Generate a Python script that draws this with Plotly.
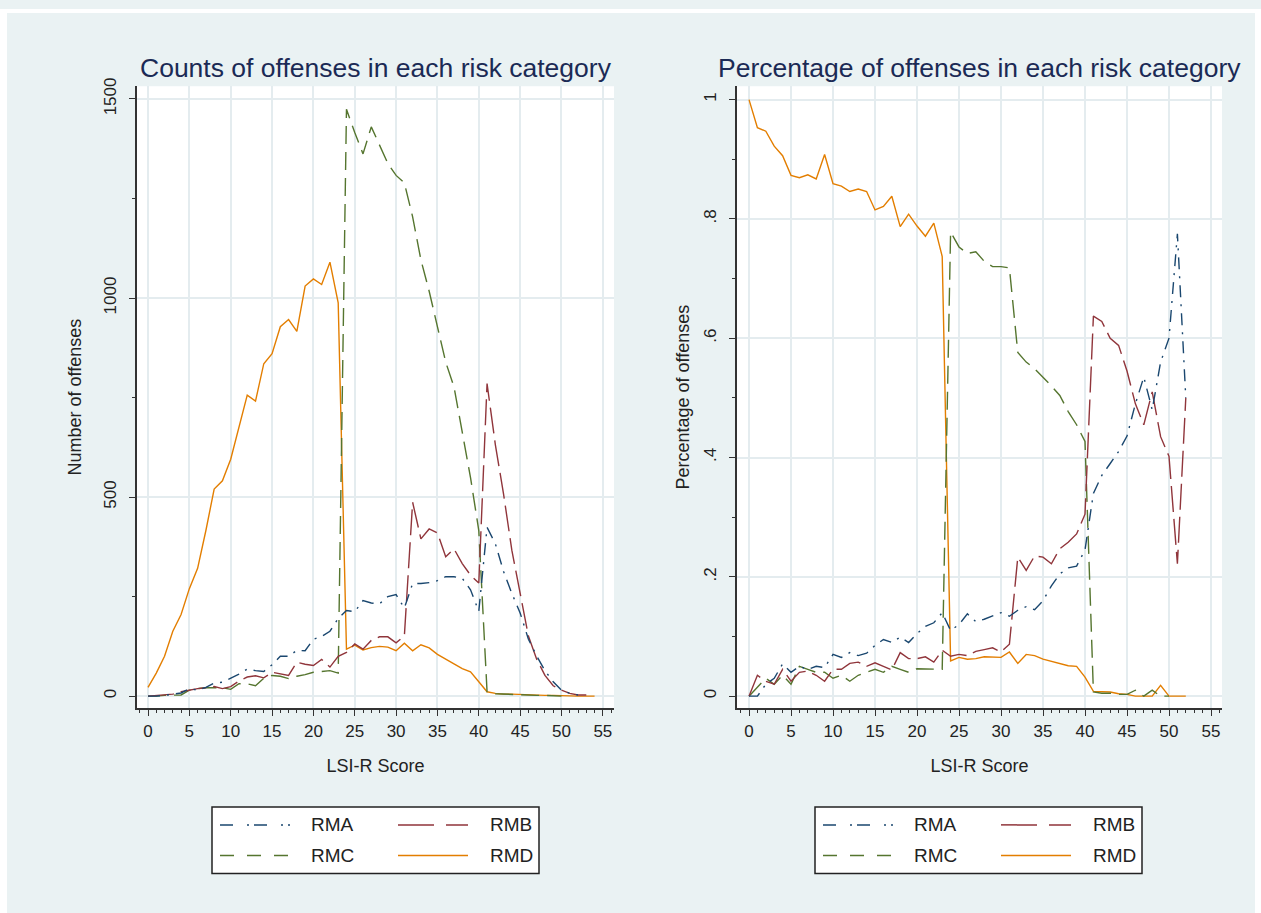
import plotly.graph_objects as go

W, H = 1261, 913

# ---------------- data ----------------
score_left_rma = list(range(0, 53))
count_rma = [0, 0, 2, 5, 8, 19, 15, 22, 33, 35, 44, 55, 68, 64, 62, 79, 100, 100, 115, 114,
             143, 150, 163, 195, 215, 212, 240, 234, 232, 250, 255, 221, 283, 283, 285, 290,
             300, 300, 296, 267, 213, 424, 383, 313, 258, 209, 143, 101, 64, 36, 15, 7, 3]
score_left_rmb = list(range(0, 54))
count_rmb = [0, 2, 3, 5, 11, 15, 19, 21, 24, 19, 24, 38, 48, 51, 46, 60, 56, 52, 85, 80,
             77, 92, 73, 100, 110, 131, 118, 140, 149, 149, 134, 151, 487, 395, 420, 410,
             350, 370, 333, 304, 284, 785, 632, 507, 366, 259, 151, 93, 52, 26, 15, 7, 3, 3]
score_left_rmc = list(range(0, 51))
count_rmc = [0, 0, 2, 3, 3, 15, 19, 21, 21, 21, 17, 31, 31, 26, 45, 52, 50, 44, 50, 54,
             60, 62, 64, 58, 1474, 1416, 1362, 1430, 1382, 1338, 1308, 1289, 1204, 1096,
             1017, 930, 839, 777, 665, 549, 416, 11, 6, 5, 4, 3, 3, 2, 2, 1, 0]
score_left_rmd = list(range(0, 55))
count_rmd = [22, 58, 100, 163, 205, 270, 321, 416, 520, 541, 595, 673, 756, 741, 835, 860,
             928, 946, 916, 1030, 1048, 1034, 1090, 988, 118, 128, 116, 122, 125, 123, 114,
             133, 114, 129, 121, 105, 94, 81, 69, 61, 36, 11, 7, 5, 5, 4, 3, 2, 2, 2, 1, 1,
             0, 0, 0]

score_right = list(range(0, 53))
pct_rma = [0, 0, 0.02, 0.03, 0.054, 0.04, 0.05, 0.045, 0.05, 0.048, 0.07, 0.065, 0.073,
           0.068, 0.072, 0.085, 0.095, 0.09, 0.099, 0.09, 0.105, 0.117, 0.123, 0.14, 0.11,
           0.12, 0.138, 0.125, 0.129, 0.135, 0.14, 0.134, 0.144, 0.15, 0.145, 0.16, 0.185,
           0.205, 0.215, 0.218, 0.245, 0.34, 0.37, 0.39, 0.41, 0.436, 0.49, 0.535, 0.48,
           0.56, 0.60, 0.775, 0.50]
pct_rmb = [0, 0.035, 0.025, 0.02, 0.045, 0.025, 0.04, 0.042, 0.035, 0.025, 0.045, 0.045,
           0.055, 0.057, 0.05, 0.056, 0.05, 0.044, 0.073, 0.063, 0.063, 0.066, 0.057, 0.077,
           0.067, 0.07, 0.068, 0.075, 0.078, 0.081, 0.074, 0.087, 0.233, 0.211, 0.235, 0.233,
           0.222, 0.247, 0.258, 0.272, 0.305, 0.637, 0.628, 0.60, 0.588, 0.545, 0.49, 0.455,
           0.51, 0.435, 0.402, 0.222, 0.50]
score_right_rmc = list(range(0, 51))
pct_rmc = [0, 0.015, 0.03, 0.02, 0.035, 0.02, 0.05, 0.045, 0.04, 0.04, 0.03, 0.035, 0.025,
           0.035, 0.04, 0.045, 0.04, 0.05, 0.045, 0.04, 0.046, 0.046, 0.045, 0.045, 0.778,
           0.753, 0.742, 0.745, 0.729, 0.72, 0.72, 0.718, 0.576, 0.56, 0.549, 0.535, 0.52,
           0.504, 0.477, 0.455, 0.427, 0.007, 0.005, 0.005, 0.003, 0.003, 0.01, 0.0, 0.01,
           0.0, 0.0]
pct_rmd = [1.0, 0.953, 0.947, 0.922, 0.906, 0.873, 0.869, 0.874, 0.867, 0.908, 0.859, 0.855,
           0.846, 0.85, 0.846, 0.815, 0.821, 0.838, 0.787, 0.808, 0.788, 0.771, 0.793, 0.737,
           0.059, 0.065, 0.062, 0.063, 0.066, 0.065, 0.065, 0.074, 0.055, 0.07, 0.068, 0.062,
           0.058, 0.054, 0.051, 0.05, 0.032, 0.008, 0.007, 0.007, 0.004, 0.003, 0.0, 0.0, 0.0,
           0.018, 0.0, 0.0, 0.0]

series_names = ["RMA", "RMB", "RMC", "RMD"]
count_ticks = [0, 500, 1000, 1500]
pct_ticks = [0, 0.2, 0.4, 0.6, 0.8, 1.0]
pct_ticktext = ["0", ".2", ".4", ".6", ".8", "1"]
score_ticks = list(range(0, 56, 5))

# ---------------- styles ----------------
colors = {"RMA": "#1a476f", "RMB": "#90353b", "RMC": "#55752f", "RMD": "#e37e00"}
dashes = {"RMA": "12px,7px,2px,7px", "RMB": "26px,7px", "RMC": "18px,8px", "RMD": "solid"}
legend_dashes = {"RMA": "13px,14px,2px,5px", "RMB": "36px,12px", "RMC": "14px,13px", "RMD": "solid"}
FONT = "Liberation Sans, Arial, sans-serif"
TXT = "#222222"
TITLE_C = "#1b2a55"
GRID = "#e4ecef"
BG = "#eaf2f3"


def px(x):
    return x / W


def py(y):
    return 1 - y / H


fig = go.Figure()

left_data = {
    "RMA": (score_left_rma, count_rma),
    "RMB": (score_left_rmb, count_rmb),
    "RMC": (score_left_rmc, count_rmc),
    "RMD": (score_left_rmd, count_rmd),
}
right_data = {
    "RMA": (score_right, pct_rma),
    "RMB": (score_right, pct_rmb),
    "RMC": (score_right_rmc, pct_rmc),
    "RMD": (score_right, pct_rmd),
}

for name in ["RMD", "RMC", "RMB", "RMA"]:
    xs, ys = left_data[name]
    fig.add_trace(go.Scatter(x=xs, y=ys, mode="lines", name=name, showlegend=False,
                             line=dict(color=colors[name], width=1.4, dash=dashes[name]),
                             xaxis="x", yaxis="y"))
for name in ["RMD", "RMC", "RMB", "RMA"]:
    xs, ys = right_data[name]
    fig.add_trace(go.Scatter(x=xs, y=ys, mode="lines", name=name, showlegend=False,
                             line=dict(color=colors[name], width=1.4, dash=dashes[name]),
                             xaxis="x2", yaxis="y2"))

axis_common = dict(
    showline=True, linecolor="#333333", linewidth=1.5, mirror=False,
    showgrid=True, gridcolor=GRID, gridwidth=1.5, zeroline=False,
    ticks="outside", ticklen=6, tickwidth=1.3, tickcolor="#333333",
    tickfont=dict(family=FONT, size=17, color=TXT),
)

xdom_l = [px(137), px(614)]
xdom_r = [px(737), px(1222)]
ydom = [py(706), py(78)]

fig.update_layout(
    width=W, height=H,
    margin=dict(l=0, r=0, t=0, b=0),
    paper_bgcolor=BG, plot_bgcolor="white",
    font=dict(family=FONT, color=TXT),
    xaxis=dict(domain=xdom_l, anchor="y", range=[-1.33, 56.35], tickvals=score_ticks,
               minor=dict(dtick=1, tick0=0, ticklen=3, tickwidth=1, tickcolor="#333333",
                          ticks="outside", showgrid=False),
               title=dict(text="LSI-R Score", font=dict(family=FONT, size=18, color=TXT),
                          standoff=19),
               ticklabelstandoff=1, **axis_common),
    yaxis=dict(domain=ydom, anchor="x", range=[-29.9, 1532], tickvals=count_ticks,
               tickangle=-90,
               minor=dict(dtick=250, tick0=0, ticklen=3, tickwidth=1, tickcolor="#333333",
                          ticks="outside", showgrid=False),
               title=dict(text="Number of offenses", font=dict(family=FONT, size=18, color=TXT),
                          standoff=15),
               ticklabelstandoff=6, **axis_common),
    xaxis2=dict(domain=xdom_r, anchor="y2", range=[-1.43, 56.31], tickvals=score_ticks,
                minor=dict(dtick=1, tick0=0, ticklen=3, tickwidth=1, tickcolor="#333333",
                           ticks="outside", showgrid=False),
                title=dict(text="LSI-R Score", font=dict(family=FONT, size=18, color=TXT),
                           standoff=19),
                ticklabelstandoff=1, **axis_common),
    yaxis2=dict(domain=ydom, anchor="x2", range=[-0.0199, 1.0224], tickvals=pct_ticks,
                ticktext=pct_ticktext, tickangle=-90,
                minor=dict(dtick=0.1, tick0=0, ticklen=3, tickwidth=1, tickcolor="#333333",
                           ticks="outside", showgrid=False),
                title=dict(text="Percentage of offenses", font=dict(family=FONT, size=18, color=TXT),
                           standoff=7),
                ticklabelstandoff=6, **axis_common),
)

shapes = []
annotations = []

# white outer margins
shapes.append(dict(type="rect", xref="paper", yref="paper", x0=0, x1=px(7), y0=0, y1=1,
                   fillcolor="white", line=dict(width=0), layer="below"))
shapes.append(dict(type="rect", xref="paper", yref="paper", x0=px(1255), x1=1, y0=0, y1=1,
                   fillcolor="white", line=dict(width=0), layer="below"))
shapes.append(dict(type="rect", xref="paper", yref="paper", x0=0, x1=1, y0=py(4), y1=1,
                   fillcolor="white", line=dict(width=0), layer="below"))

# panel titles
annotations.append(dict(text="Counts of offenses in each risk category", xref="paper", yref="paper",
                        x=px(375.5), y=py(60), xanchor="center", yanchor="middle", showarrow=False,
                        font=dict(family=FONT, size=26.5, color=TITLE_C)))
annotations.append(dict(text="Percentage of offenses in each risk category", xref="paper", yref="paper",
                        x=px(979.5), y=py(60), xanchor="center", yanchor="middle", showarrow=False,
                        font=dict(family=FONT, size=26.5, color=TITLE_C)))

# legends (one per panel, 2 x 2 layout)
legend_layout = [("RMA", 0, 0), ("RMB", 1, 0), ("RMC", 0, 1), ("RMD", 1, 1)]
for off in (0, 603):
    shapes.append(dict(type="rect", xref="paper", yref="paper",
                       x0=px(212 + off), x1=px(539 + off), y0=py(873), y1=py(806),
                       fillcolor="white", line=dict(color="#222222", width=1.5)))
    for name, col, row in legend_layout:
        lx0 = (220 if col == 0 else 398) + off
        tx = (309 if col == 0 else 488) + off
        yy = 824 if row == 0 else 855
        shapes.append(dict(type="line", xref="paper", yref="paper",
                           x0=px(lx0), x1=px(lx0 + 70), y0=py(yy), y1=py(yy),
                           line=dict(color=colors[name], width=1.5, dash=legend_dashes[name])))
        annotations.append(dict(text=name, xref="paper", yref="paper", x=px(tx), y=py(yy),
                                xanchor="left", yanchor="middle", showarrow=False,
                                font=dict(family=FONT, size=19, color=TXT)))

fig.update_layout(shapes=shapes, annotations=annotations)

fig.write_html(
    "out.html",
    config={"displayModeBar": False},
    post_script="document.body.style.margin='0px';document.body.style.overflow='hidden';",
)
